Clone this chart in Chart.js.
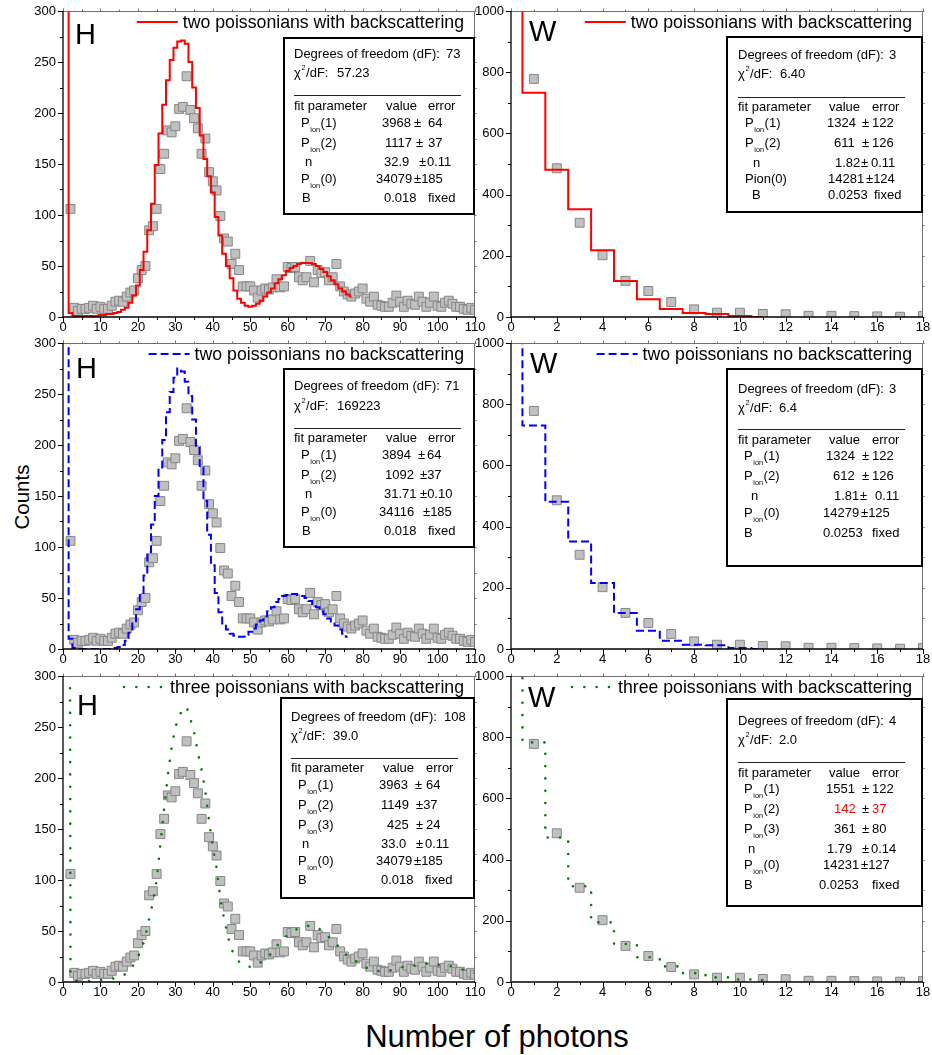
<!DOCTYPE html>
<html lang="en">
<head>
<meta charset="utf-8">
<title>Photon number distributions – H and W</title>
<script src="https://cdn.jsdelivr.net/npm/chart.js@4.4.1/dist/chart.umd.min.js"></script>
<style>
  html, body { margin: 0; padding: 0; background: #fff; }
  #figure { position: relative; width: 932px; height: 1055px; overflow: hidden; background: #fff;
            font-family: "Liberation Sans", Arial, Helvetica, sans-serif; color: #000; }
  #figure canvas { position: absolute; }
  .axis-title { position: absolute; white-space: nowrap; line-height: 1; }
  #ytitle { left: 22px; top: 497px; font-size: 20.5px; transform: translate(-50%, -50%) rotate(-90deg); }
  #xtitle { left: 497px; top: 1021px; font-size: 31px; transform: translateX(-50%); }
</style>
</head>
<body>
<div id="figure">
  <div class="axis-title" id="ytitle">Counts</div>
  <div class="axis-title" id="xtitle">Number of photons</div>
</div>
<script>
// ---------------- H: measured photon-number histogram ----------------
const hPhotons = [
  2, 3, 4, 5, 6, 7, 8, 9, 10,
  11, 12, 13, 14, 15, 16, 17, 18, 19, 20,
  21, 22, 23, 24, 25, 26, 27, 28, 29, 30,
  31, 32, 33, 34, 35, 36, 37, 38, 39, 40,
  41, 42, 43, 44, 45, 46, 47, 48, 49, 50,
  51, 52, 53, 54, 55, 56, 57, 58, 59, 60,
  61, 62, 63, 64, 65, 66, 67, 68, 69, 70,
  71, 72, 73, 74, 75, 76, 77, 78, 79, 80,
  81, 82, 83, 84, 85, 86, 87, 88, 89, 90,
  91, 92, 93, 94, 95, 96, 97, 98, 99, 100,
  101, 102, 103, 104, 105, 106, 107, 108, 109, 110
];
const hCounts = [
  106, 9, 6, 8, 8, 9, 11, 8, 10,
  8, 8, 11, 15, 16, 15, 20, 24, 26, 38,
  46, 50, 85, 89, 106, 145, 160, 183, 181, 187,
  204, 206, 236, 203, 195, 185, 160, 175, 142, 133,
  124, 99, 77, 74, 52, 62, 46, 30, 30, 30,
  26, 19, 26, 28, 27, 29, 37, 29, 30, 49,
  48, 49, 39, 36, 39, 55, 34, 46, 43, 44,
  36, 39, 52, 30, 25, 22, 20, 23, 25, 28,
  18, 15, 20, 12, 11, 10, 10, 14, 21, 15,
  10, 16, 13, 12, 20, 15, 10, 14, 20, 11,
  10, 14, 16, 13, 10, 10, 8, 7, 9, 7
];

// fitted model curves for H, evaluated at photon numbers 1, 2, 3, ...
const hFitPhotons = [
  1, 2, 3, 4, 5, 6, 7, 8, 9, 10,
  11, 12, 13, 14, 15, 16, 17, 18, 19, 20,
  21, 22, 23, 24, 25, 26, 27, 28, 29, 30,
  31, 32, 33, 34, 35, 36, 37, 38, 39, 40,
  41, 42, 43, 44, 45, 46, 47, 48, 49, 50,
  51, 52, 53, 54, 55, 56, 57, 58, 59, 60,
  61, 62, 63, 64, 65, 66, 67, 68, 69, 70,
  71, 72, 73, 74, 75, 76, 77, 78, 79, 80,
  81, 82, 83, 84, 85, 86, 87, 88, 89, 90,
  91, 92, 93, 94, 95, 96, 97, 98, 99, 100,
  101, 102, 103, 104, 105, 106, 107, 108, 109, 110
];
const hFitTwoBack = [
  2400, 4, 1, 1, 1, 1, 1, 1, 1, 2,
  2, 3, 3, 4, 5, 7, 9, 14, 21, 31,
  46, 64, 85, 111, 149, 180, 208, 232, 252, 264,
  270, 271, 268, 250, 225, 205, 178, 155, 138, 122,
  98, 80, 62, 50, 38, 26, 18, 14, 11, 10,
  11, 13, 16, 20, 24, 28, 33, 37, 41, 45,
  48, 50, 52, 53, 53, 53, 52, 50, 47, 44,
  40, 36, 32, 28, 25, 22, 20
];
const hFitTwoNoBack = [
  2400, 10, 1, 0, 0, 0, 0, 0, 0, 0,
  0, 0, 0, 1, 2, 4, 8, 16, 26, 39,
  55, 72, 95, 122, 150, 178, 205, 232, 252, 266,
  275, 272, 262, 248, 225, 198, 178, 145, 112, 82,
  55, 36, 25, 19, 15, 13, 12, 12, 14, 17,
  20, 24, 28, 32, 37, 41, 46, 49, 52, 53,
  54, 54, 53, 52, 50, 47, 44, 41, 37, 34,
  30, 27, 23, 19, 15, 12
];
const hFitThreeBack = [
  2400, 7, 2, 1, 1, 1, 1, 1, 1, 2,
  2, 3, 3, 4, 5, 6, 9, 12, 18, 25,
  32, 45, 62, 78, 100, 135, 170, 203, 230, 250,
  260, 268, 270, 258, 245, 225, 208, 187, 158, 132,
  112, 82, 62, 45, 32, 25, 20, 17, 15, 15,
  15, 17, 20, 23, 26, 29, 35, 39, 43, 46,
  49, 51, 53, 54, 55, 55, 55, 53, 51, 48,
  44, 40, 37, 33, 29, 25, 23, 21, 18, 16,
  14, 13, 12, 11, 10, 10, 11, 12, 13, 14,
  15, 15, 16, 16, 17, 17, 18, 18, 18, 17,
  17, 16, 16, 15, 14, 13, 12, 11, 10, 9
];

// ---------------- W: measured photon-number histogram ----------------
const wPhotons = [1, 2, 3, 4, 5, 6, 7, 8, 9, 10, 11, 12, 13, 14, 15, 16, 17, 18];
const wCounts  = [778, 486, 308, 202, 118, 85, 49, 25, 14, 14, 10, 9, 4, 4, 3, 2, 1, 3];

// fitted model curves for W, photon numbers 0 ... 11
const wFitPhotons   = [0, 1, 2, 3, 4, 5, 6, 7, 8, 9, 10, 11];
const wFitTwoBack   = [14281, 733, 481, 352, 218, 118, 58, 26, 13, 10, 3, 0];
const wFitTwoNoBack = [14279, 730, 481, 351, 216, 118, 60, 27, 14, 12, 3, 0];
const wFitThreeBack = [14231, 783, 472, 313, 195, 124, 81, 51, 29, 15, 8, 6];

// ---------------- axis ticks ----------------
const hTicksX = [0, 10, 20, 30, 40, 50, 60, 70, 80, 90, 100, 110];
const hTicksY = [0, 50, 100, 150, 200, 250, 300];
const wTicksX = [0, 2, 4, 6, 8, 10, 12, 14, 16, 18];
const wTicksY = [0, 200, 400, 600, 800, 1000];

// ---------------- fit result boxes ----------------
const RED = '#ff0000';
const statsTopH = {
  width: 192, top: 26, bottom: 204, tx: 11, degY: 21, dof: '73', dofX: 163,
  chiY: 40, chi: '57.23', chiX: 54, sepY: 58, headY: 73, valX: 103, errX: 145,
  rows: [
    { name: 'P_{ion}(1)', nx: 18, y: 90,  cells: [['3968', 99], ['±', 131], ['64', 145]] },
    { name: 'P_{ion}(2)', nx: 18, y: 110, cells: [['1117', 102], ['±', 133], ['37', 145]] },
    { name: 'n',          nx: 22, y: 129, cells: [['32.9', 101], ['±', 136], ['0.11', 144]] },
    { name: 'P_{ion}(0)', nx: 18, y: 146, cells: [['34079', 93], ['±185', 131]] },
    { name: 'B',          nx: 19, y: 165, cells: [['0.018', 101], ['fixed', 145]] }
  ]
};
const statsTopW = {
  width: 197, top: 25, bottom: 202, tx: 12, degY: 23, dof: '3', dofX: 163,
  chiY: 42, chi: '6.40', chiX: 54, sepY: 61, headY: 75, valX: 103, errX: 146,
  rows: [
    { name: 'P_{ion}(1)', nx: 19, y: 91,  cells: [['1324', 101], ['±', 136], ['122', 146]] },
    { name: 'P_{ion}(2)', nx: 19, y: 111, cells: [['611', 108], ['±', 136], ['126', 146]] },
    { name: 'n',          nx: 27, y: 131, cells: [['1.82', 109], ['±', 135], ['0.11', 145]] },
    { name: 'Pion(0)',    nx: 19, y: 147, cells: [['14281', 102], ['±124', 140]] },
    { name: 'B',          nx: 26, y: 163, cells: [['0.0253', 102], ['fixed', 148]] }
  ]
};
const statsMidH = {
  width: 192, top: 25, bottom: 205, tx: 11, degY: 22, dof: '71', dofX: 162,
  chiY: 42, chi: '169223', chiX: 54, sepY: 60, headY: 74, valX: 103, errX: 145,
  rows: [
    { name: 'P_{ion}(1)', nx: 18, y: 91,  cells: [['3894', 99], ['±', 135], ['64', 144]] },
    { name: 'P_{ion}(2)', nx: 18, y: 111, cells: [['1092', 102], ['±37', 137]] },
    { name: 'n',          nx: 22, y: 130, cells: [['31.71', 101], ['±0.10', 137]] },
    { name: 'P_{ion}(0)', nx: 18, y: 148, cells: [['34116', 96], ['±185', 140]] },
    { name: 'B',          nx: 19, y: 167, cells: [['0.018', 101], ['fixed', 145]] }
  ]
};
const statsMidW = {
  width: 197, top: 25, bottom: 224, tx: 12, degY: 25, dof: '3', dofX: 163,
  chiY: 44, chi: '6.4', chiX: 53, sepY: 61, headY: 76, valX: 103, errX: 146,
  rows: [
    { name: 'P_{ion}(1)', nx: 18, y: 92,  cells: [['1324', 100], ['±', 136], ['122', 146]] },
    { name: 'P_{ion}(2)', nx: 18, y: 112, cells: [['612', 107], ['±', 136], ['126', 146]] },
    { name: 'n',          nx: 25, y: 132, cells: [['1.81', 108], ['±', 134], ['0.11', 149]] },
    { name: 'P_{ion}(0)', nx: 18, y: 149, cells: [['14279', 97], ['±125', 135]] },
    { name: 'B',          nx: 18, y: 169, cells: [['0.0253', 97], ['fixed', 146]] }
  ]
};
const statsBotH = {
  width: 195, top: 21, bottom: 223, tx: 11, degY: 24, dof: '108', dofX: 164,
  chiY: 43, chi: '39.0', chiX: 53, sepY: 61, headY: 75, valX: 103, errX: 146,
  rows: [
    { name: 'P_{ion}(1)', nx: 18, y: 92,  cells: [['3963', 99], ['±', 135], ['64', 146]] },
    { name: 'P_{ion}(2)', nx: 18, y: 112, cells: [['1149', 101], ['±37', 136]] },
    { name: 'P_{ion}(3)', nx: 18, y: 132, cells: [['425', 107], ['±', 136], ['24', 146]] },
    { name: 'n',          nx: 22, y: 151, cells: [['33.0', 101], ['±', 136], ['0.11', 145]] },
    { name: 'P_{ion}(0)', nx: 18, y: 168, cells: [['34079', 96], ['±185', 134]] },
    { name: 'B',          nx: 18, y: 187, cells: [['0.018', 101], ['fixed', 145]] }
  ]
};
const statsBotW = {
  width: 197, top: 22, bottom: 231, tx: 12, degY: 27, dof: '4', dofX: 163,
  chiY: 46, chi: '2.0', chiX: 53, sepY: 64, headY: 79, valX: 103, errX: 146,
  rows: [
    { name: 'P_{ion}(1)', nx: 18, y: 95,  cells: [['1551', 100], ['±', 136], ['122', 146]] },
    { name: 'P_{ion}(2)', nx: 18, y: 115, cells: [['142', 108, RED], ['±', 136], ['37', 146, RED]] },
    { name: 'P_{ion}(3)', nx: 18, y: 135, cells: [['361', 108], ['±', 136], ['80', 146]] },
    { name: 'n',          nx: 22, y: 155, cells: [['1.79', 101], ['±', 136], ['0.14', 145]] },
    { name: 'P_{ion}(0)', nx: 18, y: 171, cells: [['14231', 97], ['±127', 135]] },
    { name: 'B',          nx: 18, y: 191, cells: [['0.0253', 93], ['fixed', 146]] }
  ]
};

// ---------------- layout & styles ----------------
const FONT = '"Liberation Sans", Arial, Helvetica, sans-serif';
const PAD = { left: 62, top: 14, right: 16, bottom: 30 };
const PLOT_W = 412, PLOT_H = 306;
const COL_LEFT = [63, 511];
const ROW_TOP = [11, 343, 676];
const BOX_FONT = 13;
const TICK_FONT = 13;

const FIT_STYLES = {
  twoBack:   { color: '#ff0000', width: 2,   dash: [],           cap: 'butt' },
  twoNoBack: { color: '#0000ff', width: 2,   dash: [8, 4],       cap: 'butt' },
  threeBack: { color: '#008000', width: 2.6, dash: [0.01, 12.3], cap: 'round' }
};

const panels = [
  { col: 0, row: 0, letter: 'H', letterDx: 12, letterBase: 33,
    points: [hPhotons, hCounts], fit: [hFitPhotons, hFitTwoBack], fitStyle: 'twoBack', stepped: 'middle',
    legend: 'two poissonians with backscattering',
    xRange: [0, 110], yRange: [0, 300], xTicks: hTicksX, yTicks: hTicksY, stats: statsTopH },
  { col: 1, row: 0, letter: 'W', letterDx: 18, letterBase: 30,
    points: [wPhotons, wCounts], fit: [wFitPhotons, wFitTwoBack], fitStyle: 'twoBack', stepped: 'middle',
    legend: 'two poissonians with backscattering',
    xRange: [0, 18], yRange: [0, 1000], xTicks: wTicksX, yTicks: wTicksY, stats: statsTopW },
  { col: 0, row: 1, letter: 'H', letterDx: 13, letterBase: 35,
    points: [hPhotons, hCounts], fit: [hFitPhotons, hFitTwoNoBack], fitStyle: 'twoNoBack', stepped: 'middle',
    legend: 'two poissonians no backscattering',
    xRange: [0, 110], yRange: [0, 300], xTicks: hTicksX, yTicks: hTicksY, stats: statsMidH },
  { col: 1, row: 1, letter: 'W', letterDx: 19, letterBase: 30,
    points: [wPhotons, wCounts], fit: [wFitPhotons, wFitTwoNoBack], fitStyle: 'twoNoBack', stepped: 'middle',
    legend: 'two poissonians no backscattering',
    xRange: [0, 18], yRange: [0, 1000], xTicks: wTicksX, yTicks: wTicksY, stats: statsMidW },
  { col: 0, row: 2, letter: 'H', letterDx: 14, letterBase: 39,
    points: [hPhotons, hCounts], fit: [hFitPhotons, hFitThreeBack], fitStyle: 'threeBack', stepped: false,
    legend: 'three poissonians with backscattering',
    xRange: [0, 110], yRange: [0, 300], xTicks: hTicksX, yTicks: hTicksY, stats: statsBotH },
  { col: 1, row: 2, letter: 'W', letterDx: 17, letterBase: 31,
    points: [wPhotons, wCounts], fit: [wFitPhotons, wFitThreeBack], fitStyle: 'threeBack', stepped: 'middle',
    legend: 'three poissonians with backscattering',
    xRange: [0, 18], yRange: [0, 1000], xTicks: wTicksX, yTicks: wTicksY, stats: statsBotW }
];

// ---------------- drawing helpers ----------------
function pairs(xs, ys) { return ys.map((v, i) => ({ x: xs[i], y: v })); }

// text with _{sub} and ^{sup} markup
function drawRich(ctx, str, x, y, size) {
  const parts = str.split(/(_\{[^}]*\}|\^\{[^}]*\})/);
  let cx = x;
  for (const p of parts) {
    if (!p) continue;
    if (p[0] === '_' || p[0] === '^') {
      const t = p.slice(2, -1);
      ctx.font = `${(size * 0.56).toFixed(1)}px ${FONT}`;
      ctx.fillText(t, cx + 0.6, y + (p[0] === '_' ? 4.5 : -7));
      cx += ctx.measureText(t).width + 1.2;
      ctx.font = `${size}px ${FONT}`;
    } else {
      ctx.fillText(p, cx, y);
      cx += ctx.measureText(p).width;
    }
  }
}

// frame with major and minor ticks on all four sides
function drawAxes(ctx, a, sx, sy) {
  const xt = sx.ticks.map(t => t.value), yt = sy.ticks.map(t => t.value);
  const mid = arr => arr.slice(1).map((v, i) => (v + arr[i]) / 2);
  const xm = mid(xt), ym = mid(yt);
  const X = v => Math.round(sx.getPixelForValue(v)) + 0.5;
  const Y = v => Math.round(sy.getPixelForValue(v)) + 0.5;
  const top = Math.round(a.top) + 0.5, right = Math.round(a.right) - 0.5;
  const left = Math.round(a.left), bottom = Math.round(a.bottom);
  ctx.save();
  // thin grey frame on top and right with short outward ticks
  ctx.strokeStyle = '#707070';
  ctx.lineWidth = 1;
  ctx.beginPath();
  ctx.moveTo(left, top); ctx.lineTo(right, top); ctx.lineTo(right, bottom);
  for (const v of xt) { ctx.moveTo(X(v), top); ctx.lineTo(X(v), top - 3); }
  for (const v of xm) { ctx.moveTo(X(v), top); ctx.lineTo(X(v), top - 2); }
  for (const v of yt) { ctx.moveTo(right, Y(v)); ctx.lineTo(right + 2, Y(v)); }
  for (const v of ym) { ctx.moveTo(right, Y(v)); ctx.lineTo(right + 2, Y(v)); }
  ctx.stroke();
  // black left and bottom axes with outward major and minor ticks
  ctx.strokeStyle = '#000';
  ctx.lineWidth = 1.3;
  ctx.beginPath();
  ctx.moveTo(left, top - 0.5); ctx.lineTo(left, bottom); ctx.lineTo(right + 0.5, bottom);
  ctx.stroke();
  ctx.lineWidth = 1;
  ctx.beginPath();
  for (const v of yt) { ctx.moveTo(left, Y(v)); ctx.lineTo(left - 5, Y(v)); }
  for (const v of ym) { ctx.moveTo(left, Y(v)); ctx.lineTo(left - 3, Y(v)); }
  for (const v of xt) { ctx.moveTo(X(v), bottom); ctx.lineTo(X(v), bottom + 5); }
  for (const v of xm) { ctx.moveTo(X(v), bottom); ctx.lineTo(X(v), bottom + 3); }
  ctx.stroke();
  ctx.restore();
}

// legend entry in the top-right corner: sample line followed by the label
function drawLegend(ctx, a, text, st) {
  ctx.save();
  ctx.font = `17.7px ${FONT}`;
  ctx.fillStyle = '#000';
  ctx.textAlign = 'left';
  ctx.textBaseline = 'alphabetic';
  const tl = a.right - 11 - ctx.measureText(text).width;
  ctx.fillText(text, tl, a.top + 17);
  ctx.strokeStyle = st.color;
  ctx.lineWidth = st.width;
  ctx.setLineDash(st.dash);
  ctx.lineCap = st.cap;
  ctx.beginPath();
  ctx.moveTo(tl - 46, a.top + 11);
  ctx.lineTo(tl - 5, a.top + 11);
  ctx.stroke();
  ctx.restore();
}

function drawStats(ctx, a, s) {
  const R = Math.round(a.right);
  const L = R - s.width, T = Math.round(a.top) + s.top, B = Math.round(a.top) + s.bottom;
  ctx.save();
  ctx.fillStyle = '#fff';
  ctx.fillRect(L, T, R - L, B - T);
  ctx.strokeStyle = '#000';
  ctx.lineWidth = 2;
  ctx.strokeRect(L + 1, T + 1, R - L - 2, B - T - 2);
  ctx.fillStyle = '#000';
  ctx.textAlign = 'left';
  ctx.textBaseline = 'alphabetic';
  ctx.font = `${BOX_FONT}px ${FONT}`;
  ctx.fillText('Degrees of freedom (dF):', L + s.tx, T + s.degY);
  ctx.fillText(s.dof, L + s.dofX, T + s.degY);
  drawRich(ctx, 'χ^{2}/dF:', L + s.tx, T + s.chiY, BOX_FONT);
  ctx.fillText(s.chi, L + s.chiX, T + s.chiY);
  ctx.strokeStyle = '#222';
  ctx.lineWidth = 1;
  ctx.beginPath();
  ctx.moveTo(L + s.tx, T + s.sepY + 0.5);
  ctx.lineTo(L + s.tx + 167, T + s.sepY + 0.5);
  ctx.stroke();
  ctx.fillText('fit parameter', L + s.tx, T + s.headY);
  ctx.fillText('value', L + s.valX, T + s.headY);
  ctx.fillText('error', L + s.errX, T + s.headY);
  for (const r of s.rows) {
    ctx.fillStyle = '#000';
    drawRich(ctx, r.name, L + r.nx, T + r.y, BOX_FONT);
    for (const [t, x, c] of r.cells) {
      ctx.fillStyle = c || '#000';
      ctx.fillText(t, L + x, T + r.y);
    }
  }
  ctx.restore();
}

function decoPlugin(p, st) {
  return {
    id: 'panelDeco',
    afterDatasetsDraw(chart) {
      const { ctx, chartArea: a } = chart;
      drawAxes(ctx, a, chart.scales.x, chart.scales.y);
      ctx.save();
      ctx.fillStyle = '#000';
      ctx.textAlign = 'left';
      ctx.textBaseline = 'alphabetic';
      ctx.font = `29px ${FONT}`;
      ctx.fillText(p.letter, a.left + p.letterDx, a.top + p.letterBase);
      ctx.restore();
      drawLegend(ctx, a, p.legend, st);
      drawStats(ctx, a, p.stats);
    }
  };
}

// ---------------- build the six panels ----------------
Chart.defaults.font.family = FONT;
const fig = document.getElementById('figure');

function buildPanel(p) {
  const plotLeft = COL_LEFT[p.col], plotTop = ROW_TOP[p.row];
  const w = PLOT_W + PAD.left + PAD.right, h = PLOT_H + PAD.top + PAD.bottom;
  const cv = document.createElement('canvas');
  cv.width = w; cv.height = h;
  cv.style.left = (plotLeft - PAD.left) + 'px';
  cv.style.top = (plotTop - PAD.top) + 'px';
  cv.style.width = w + 'px';
  cv.style.height = h + 'px';
  fig.appendChild(cv);
  const st = FIT_STYLES[p.fitStyle];
  const tickFont = { family: FONT, size: TICK_FONT };
  new Chart(cv, {
    type: 'scatter',
    data: {
      datasets: [
        {
          type: 'line', label: p.legend,
          data: pairs(p.fit[0], p.fit[1]),
          borderColor: st.color, borderWidth: st.width, borderDash: st.dash, borderCapStyle: st.cap,
          stepped: p.stepped, tension: 0, pointRadius: 0, fill: false, order: 0
        },
        {
          type: 'scatter', label: 'measured',
          data: pairs(p.points[0], p.points[1]),
          pointStyle: 'rect', pointRadius: 6.3,
          backgroundColor: '#c0c0c0', borderColor: '#868686', borderWidth: 1, order: 1
        }
      ]
    },
    options: {
      responsive: false,
      animation: false,
      events: [],
      layout: { padding: { left: 0, top: PAD.top, right: PAD.right, bottom: 0 } },
      plugins: { legend: { display: false }, tooltip: { enabled: false }, title: { display: false } },
      scales: {
        x: {
          type: 'linear', position: 'bottom', min: p.xRange[0], max: p.xRange[1],
          afterBuildTicks: s => { s.ticks = p.xTicks.map(v => ({ value: v })); },
          ticks: { color: '#000', font: tickFont, padding: 0, maxRotation: 0, autoSkip: false, callback: v => String(v) },
          grid: { display: false, drawTicks: true, tickLength: 3 },
          border: { display: false },
          afterFit: s => { s.height = PAD.bottom; s.paddingLeft = 0; s.paddingRight = 0; }
        },
        y: {
          type: 'linear', position: 'left', min: p.yRange[0], max: p.yRange[1],
          afterBuildTicks: s => { s.ticks = p.yTicks.map(v => ({ value: v })); },
          ticks: { color: '#000', font: tickFont, padding: 4, autoSkip: false, callback: v => String(v) },
          grid: { display: false, drawTicks: true, tickLength: 3 },
          border: { display: false },
          afterFit: s => { s.width = PAD.left; s.paddingTop = 0; s.paddingBottom = 0; }
        }
      }
    },
    plugins: [decoPlugin(p, st)]
  });
}

panels.forEach(buildPanel);
</script>
</body>
</html>
